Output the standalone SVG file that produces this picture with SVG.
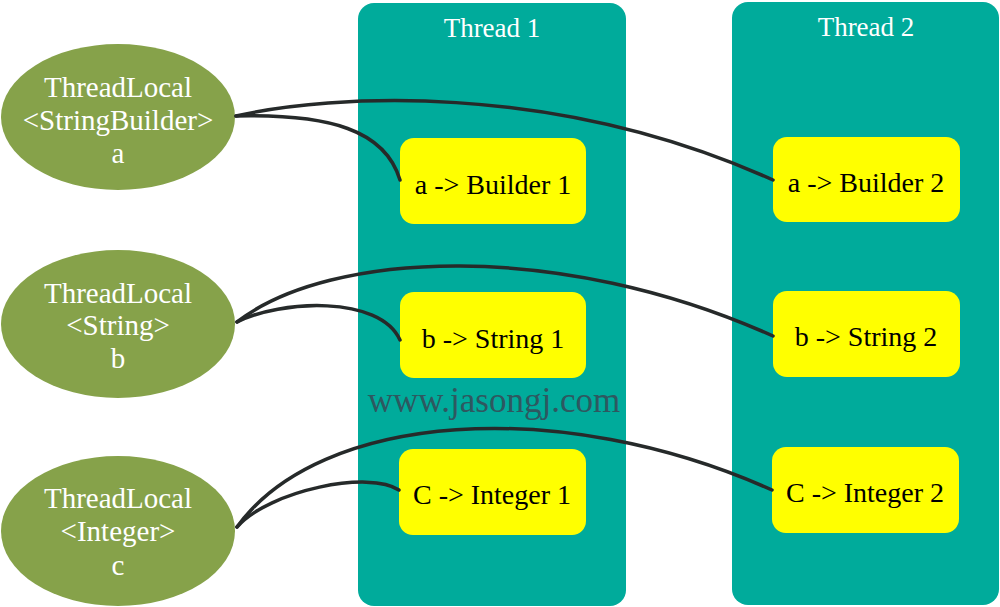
<svg xmlns="http://www.w3.org/2000/svg" width="1000" height="607" viewBox="0 0 1000 607">
<style>
.thread{fill:#00AB9B}
.tt{font-family:'Liberation Serif','Times New Roman','DejaVu Serif',serif;font-size:27px;fill:#ffffff;text-anchor:middle}
.tl{fill:#86A24A}
.tlt{font-family:'Liberation Serif','Times New Roman','DejaVu Serif',serif;font-size:29px;fill:#ffffff;text-anchor:middle}
.box{fill:#FFFF00}
.bt{font-family:'Liberation Serif','Times New Roman','DejaVu Serif',serif;font-size:28px;fill:#000000;text-anchor:middle}
.wm{font-family:'Liberation Serif','Times New Roman','DejaVu Serif',serif;font-size:35px;fill:#2E5860;text-anchor:middle}
.c{fill:none;stroke:#262a2a;stroke-width:3.5;stroke-linecap:round}
</style>
<rect width="1000" height="607" fill="#ffffff"/>
<g id="thread1"><rect class="thread" x="358" y="3" width="268" height="603" rx="16"/><text class="tt" x="492" y="37">Thread 1</text></g>
<g id="thread2"><rect class="thread" x="732" y="2" width="267" height="603" rx="16"/><text class="tt" x="866" y="36">Thread 2</text></g>
<g id="tl-a"><ellipse class="tl" cx="118" cy="117" rx="117" ry="73"/><text class="tlt" x="118" y="97">ThreadLocal</text><text class="tlt" x="118" y="130">&lt;StringBuilder&gt;</text><text class="tlt" x="118" y="163">a</text></g>
<g id="tl-b"><ellipse class="tl" cx="118" cy="324" rx="117" ry="74"/><text class="tlt" x="118" y="303">ThreadLocal</text><text class="tlt" x="118" y="335">&lt;String&gt;</text><text class="tlt" x="118" y="368">b</text></g>
<g id="tl-c"><ellipse class="tl" cx="118" cy="531" rx="117" ry="75"/><text class="tlt" x="118" y="508">ThreadLocal</text><text class="tlt" x="118" y="541">&lt;Integer&gt;</text><text class="tlt" x="118" y="575">c</text></g>
<g id="b1a"><rect class="box" x="400" y="138" width="186" height="86" rx="14"/><text class="bt" x="493" y="194">a -&gt; Builder 1</text></g>
<g id="b1b"><rect class="box" x="400" y="292" width="186" height="86" rx="14"/><text class="bt" x="493" y="348">b -&gt; String 1</text></g>
<g id="b1c"><rect class="box" x="399" y="449" width="187" height="86" rx="14"/><text class="bt" x="492" y="504">C -&gt; Integer 1</text></g>
<g id="b2a"><rect class="box" x="773" y="137" width="187" height="85" rx="14"/><text class="bt" x="866" y="192">a -&gt; Builder 2</text></g>
<g id="b2b"><rect class="box" x="773" y="291" width="187" height="86" rx="14"/><text class="bt" x="866" y="346">b -&gt; String 2</text></g>
<g id="b2c"><rect class="box" x="772" y="447" width="187" height="86" rx="14"/><text class="bt" x="865" y="502">C -&gt; Integer 2</text></g>
<text class="wm" x="494" y="412">www.jasongj.com</text>
<g id="connectors">
<path class="c" d="M236,116 C330,114 385,130 400,180"/>
<path class="c" d="M236,116 C330,95 550,80 773,180"/>
<path class="c" d="M237,322 C280,300 380,295 400,340"/>
<path class="c" d="M237,322 C330,250 560,240 773,336"/>
<path class="c" d="M237,527 C270,490 370,470 399,490"/>
<path class="c" d="M237,527 C320,412 560,395 772,490"/>
</g>
</svg>
